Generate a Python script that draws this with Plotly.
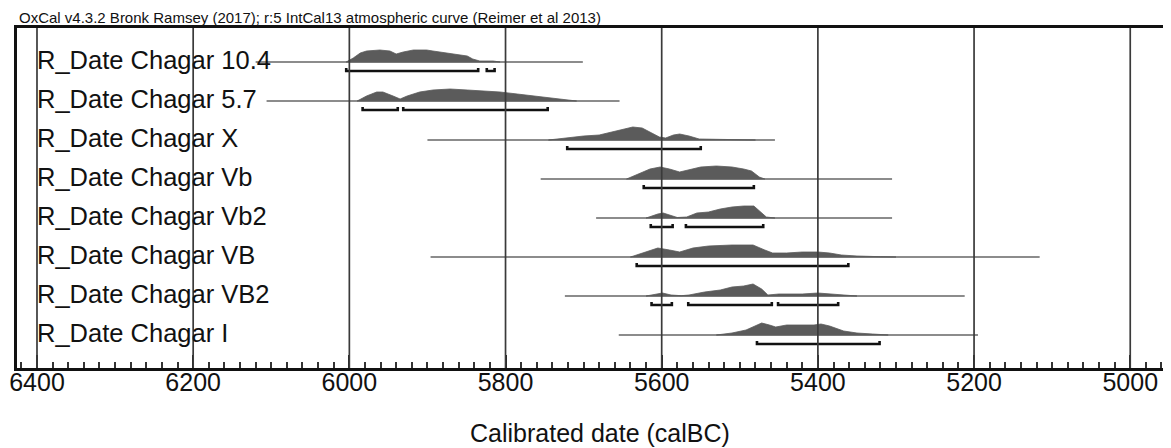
import plotly.graph_objects as go

# ---------------- data ----------------
labels = ["R_Date Chagar 10.4", "R_Date Chagar 5.7", "R_Date Chagar X", "R_Date Chagar Vb",
          "R_Date Chagar Vb2", "R_Date Chagar VB", "R_Date Chagar VB2", "R_Date Chagar I"]

# full extent of each likelihood line (calBC)
line_start = [6120, 6106, 5900, 5755, 5684, 5896, 5724, 5655]
line_end = [5701, 5654, 5455, 5305, 5305, 5116, 5212, 5195]

# posterior probability curves (year, relative probability)
dist_years = [
    [6004, 5995, 5986, 5978, 5961, 5948, 5940, 5931, 5918, 5901, 5893, 5875, 5862, 5849, 5842, 5833, 5816, 5807],
    [5990, 5978, 5965, 5957, 5944, 5935, 5926, 5910, 5893, 5871, 5849, 5829, 5807, 5785, 5765, 5743, 5721, 5709],
    [5745, 5725, 5700, 5680, 5665, 5650, 5637, 5625, 5612, 5603, 5595, 5585, 5577, 5565, 5552, 5520, 5480],
    [5645, 5630, 5615, 5602, 5590, 5577, 5565, 5550, 5530, 5510, 5495, 5485, 5475, 5468],
    [5620, 5605, 5598, 5590, 5580, 5568, 5555, 5540, 5525, 5510, 5495, 5482, 5474, 5466, 5455],
    [5640, 5625, 5605, 5590, 5577, 5560, 5540, 5510, 5483, 5468, 5458, 5440, 5420, 5400, 5385, 5370, 5350, 5320, 5300],
    [5620, 5608, 5599, 5588, 5575, 5565, 5545, 5525, 5510, 5495, 5483, 5472, 5464, 5450, 5420, 5400, 5385, 5367, 5350],
    [5530, 5510, 5492, 5480, 5472, 5462, 5454, 5440, 5420, 5405, 5396, 5385, 5367, 5350, 5330, 5310],
]
dist_prob = [
    [0, 4, 9, 11, 12, 11, 8, 10, 12, 12, 11, 9, 8, 6, 3, 1, 1, 0],
    [0, 5, 9, 9, 5, 2, 5, 9, 11, 12, 11, 10, 9, 7, 5, 3, 1, 0],
    [0, 2, 4, 5, 8, 11, 13, 12, 7, 3, 2, 5, 6, 4, 1, 0.3, 0],
    [0, 5, 10, 12, 10, 7, 9, 12, 13, 12, 10, 8, 2, 0],
    [0, 4, 5, 3, 0.5, 1, 5, 6, 9, 11, 12, 12, 6, 1, 0],
    [0, 4, 9, 7, 5, 9, 11, 12, 12, 7, 4, 4, 5, 5, 4, 2, 1, 0.3, 0],
    [0, 2, 3, 1, 0.3, 1, 4, 6, 9, 10, 12, 7, 1, 2, 2, 3, 2, 0.5, 0],
    [0, 2, 5, 9, 12, 10, 8, 10, 10, 10, 11, 9, 4, 2, 1, 0],
]

# 95.4% highest posterior density ranges
range_from = [[6004, 5824], [5983, 5931], [5721], [5623], [5614, 5569], [5632], [5613, 5566, 5451], [5478]]
range_to = [[5835, 5814], [5938, 5746], [5550], [5482], [5586, 5470], [5361], [5587, 5459, 5374], [5321]]

tick_years = [6400, 6200, 6000, 5800, 5600, 5400, 5200, 5000]

header = "OxCal v4.3.2 Bronk Ramsey (2017); r:5 IntCal13 atmospheric curve (Reimer et al 2013)"
x_title = "Calibrated date (calBC)"

# ---------------- styling / geometry ----------------
ROW_PX = 39.0
PROB_SCALE = 1.0 / ROW_PX       # probability units -> row units
BAR_OFFSET = 9.0 / ROW_PX
BAR_TICK = 3.0 / ROW_PX
FONT = "Liberation Sans, Arial, sans-serif"

fig = go.Figure()

for i, lab in enumerate(labels):
    base = -i
    # likelihood line
    fig.add_trace(go.Scatter(x=[line_start[i], line_end[i]], y=[base, base], mode="lines",
                             line=dict(color="#8c8c8c", width=2), hoverinfo="skip", showlegend=False))
    # posterior distribution
    xs = list(dist_years[i]) + list(reversed(dist_years[i]))
    ys = [base + p * PROB_SCALE for p in dist_prob[i]] + [base] * len(dist_years[i])
    fig.add_trace(go.Scatter(x=xs, y=ys, mode="lines", fill="toself", fillcolor="#5b5b5b",
                             line=dict(color="#5b5b5b", width=0.8), hoverinfo="skip", showlegend=False))
    # hpd ranges
    bx, by = [], []
    yb = base - BAR_OFFSET
    for a, b in zip(range_from[i], range_to[i]):
        bx += [a, a, b, b, None]
        by += [yb + BAR_TICK, yb, yb, yb + BAR_TICK, None]
    fig.add_trace(go.Scatter(x=bx, y=by, mode="lines", line=dict(color="#111111", width=2.6),
                             hoverinfo="skip", showlegend=False))

annotations = []
for i, lab in enumerate(labels):
    annotations.append(dict(x=tick_years[0], y=-i, xref="x", yref="y", text=lab, showarrow=False,
                            xanchor="left", yanchor="middle", xshift=-2, yshift=2,
                            font=dict(family=FONT, size=25.5, color="#111111")))
annotations.append(dict(x=0, y=1, xref="paper", yref="paper", text=header, showarrow=False,
                        xanchor="left", yanchor="bottom", xshift=0, yshift=0,
                        font=dict(family=FONT, size=15, color="#111111")))
annotations.append(dict(x=0.505, y=0, xref="paper", yref="paper", text=x_title, showarrow=False,
                        xanchor="center", yanchor="middle", yshift=-65,
                        font=dict(family=FONT, size=25, color="#111111")))

shapes = [dict(type="line", xref="x", yref="paper", x0=t, x1=t, y0=0, y1=1, layer="above",
               line=dict(color="#3a3a3a", width=1.7)) for t in tick_years]

n = len(labels)
# the page body adds an 8px offset; margins compensate for it
fig.update_layout(
    width=1163, height=440,
    margin=dict(l=9, r=0, t=20, b=80),
    plot_bgcolor="white", paper_bgcolor="white",
    annotations=annotations, shapes=shapes,
    xaxis=dict(range=[6425.6, 4947.8], tickvals=tick_years, ticktext=[str(t) for t in tick_years],
               showgrid=False, zeroline=False, showline=True, mirror=True, linecolor="#111111", linewidth=3,
               ticks="inside", ticklen=13, tickwidth=2, tickcolor="#222222", ticklabelstandoff=-10,
               tickfont=dict(family=FONT, size=25, color="#111111"),
               minor=dict(dtick=20, tick0=0, ticks="inside", ticklen=6, tickwidth=1.5, tickcolor="#333333",
                          showgrid=False)),
    yaxis=dict(range=[-(n - 1) - 33 / ROW_PX, 34 / ROW_PX], showgrid=False, zeroline=False,
               showticklabels=False, showline=True, linecolor="#111111", linewidth=3, mirror=False),
)

fig.write_html("out.html")
